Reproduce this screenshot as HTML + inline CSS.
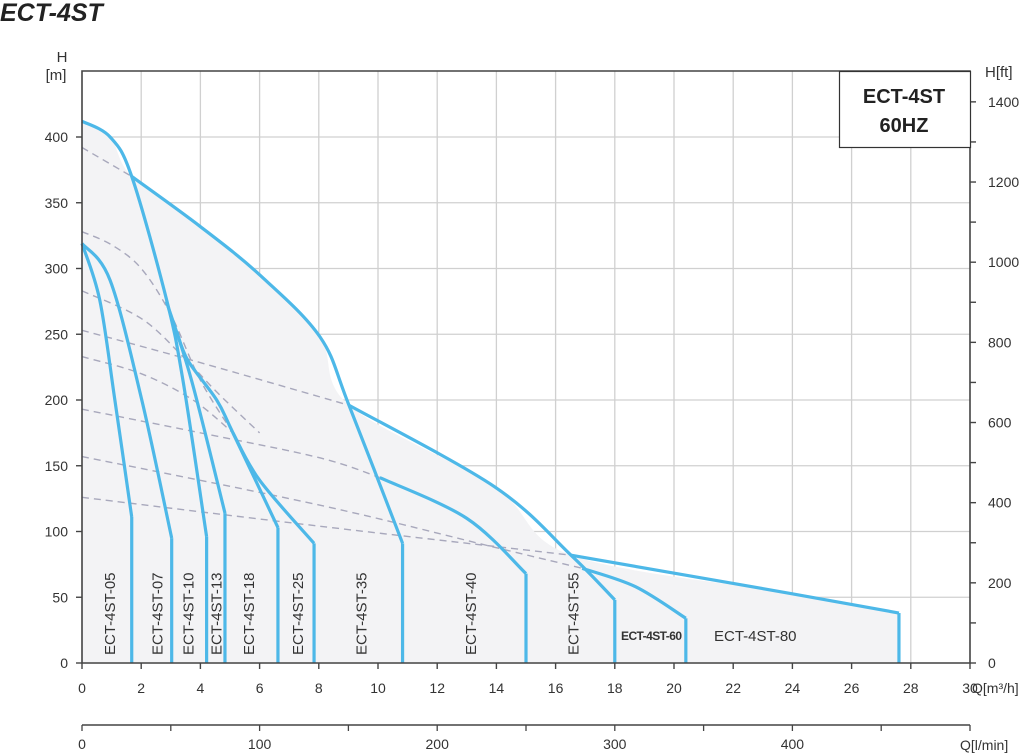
<!DOCTYPE html>
<html><head><meta charset="utf-8"><style>
body{margin:0;background:#fff;font-family:"Liberation Sans",sans-serif}
svg{display:block}
</style></head><body>
<svg width="1024" height="753" viewBox="0 0 1024 753" xmlns="http://www.w3.org/2000/svg" id="chart">
<text x="0" y="21" font-size="25" font-weight="bold" font-style="italic" fill="#222">ECT-4ST</text>
<g id="grid"></g>
<g id="fill"></g>
<g id="dashes"></g>
<g id="curves"></g>
<g id="axes"></g>
<g>
<rect x="839.5" y="71.5" width="131" height="76" fill="#fff" stroke="#333" stroke-width="1.2"/>
<text x="904" y="103" font-size="20" font-weight="bold" text-anchor="middle" fill="#222">ECT-4ST</text>
<text x="904" y="132" font-size="20" font-weight="bold" text-anchor="middle" fill="#222">60HZ</text>
</g>
<g id="labels"></g>
</svg>
<script>
const xTicks=[0,2,4,6,8,10,12,14,16,18,20,22,24,26,28,30];
const yTicks=[0,50,100,150,200,250,300,350,400];
const ftTicks=[0,200,400,600,800,1000,1200,1400];
const lminTicks=[0,100,200,300,400];
const c05=[[0,319],[0.6,276],[1.11,200],[1.68,111]];
const c07=[[0,319],[0.95,291],[2.02,200],[3.03,95]];
const c10=[[0,412],[0.95,400],[1.68,370],[2.86,276],[3.41,215],[4.21,96]];
const c13=[[2.85,275],[3.7,215],[4.83,114]];
const c18=[[3.2,252],[3.58,230],[4.55,200],[5.1,175],[6.62,103]];
const c25=[[5.1,175],[6.0,139],[7.84,91]];
const c35=[[1.68,370],[3.99,332],[6.01,295],[8.04,248],[9.02,196],[10.83,91]];
const c40=[[10.06,141],[13.0,110],[15.0,68]];
const c55=[[9.02,196],[13.94,134],[16.52,82],[18.0,48]];
const c60=[[16.9,72],[18.7,58],[20.4,34]];
const c80=[[16.52,82],[23.9,53],[27.6,38]];
const ends=[[1.68,111],[3.03,95],[4.21,96],[4.83,114],[6.62,103],[7.84,91],[10.83,91],[15.0,68],[18.0,48],[20.4,34],[27.6,38]];
const d1=[[0,392],[1.68,370]];
const d2=[[0,328],[1,318],[2,300],[3,265],[4,215],[5.1,175]];
const d3=[[0,283],[2,262],[3.41,233],[4.6,205],[6.0,175]];
const d4=[[0,253],[3.75,230],[9.02,196]];
const d5=[[0,233],[2,220],[3.75,200],[5.1,175]];
const d6=[[0,193],[4,175],[8.04,156],[10.06,141]];
const d7=[[0,157],[8.04,120],[13.94,88],[16.9,72]];
const d8=[[0,126],[8.04,104],[16.52,82]];
const modelNames=["ECT-4ST-05","ECT-4ST-07","ECT-4ST-10","ECT-4ST-13","ECT-4ST-18","ECT-4ST-25","ECT-4ST-35","ECT-4ST-40","ECT-4ST-55"];
const labelQ=[0.95,2.55,3.6,4.55,5.65,7.3,9.45,13.15,16.6];

const X=q=>82+q*29.6, Y=h=>663-h*1.315, XL=l=>82+l*0.06*29.6, YF=f=>663-f*0.3048*1.315;
const NS="http://www.w3.org/2000/svg";
function mk(t,a,p){const e=document.createElementNS(NS,t);for(const k in a)e.setAttribute(k,a[k]);p.appendChild(e);return e;}
function smooth(pts){const P=pts.map(p=>[X(p[0]),Y(p[1])]);let d="M"+P[0][0]+","+P[0][1];
for(let i=0;i<P.length-1;i++){const p0=P[i-1]||P[i],p1=P[i],p2=P[i+1],p3=P[i+2]||P[i+1];
d+=` C${p1[0]+(p2[0]-p0[0])/6},${p1[1]+(p2[1]-p0[1])/6} ${p2[0]-(p3[0]-p1[0])/6},${p2[1]-(p3[1]-p1[1])/6} ${p2[0]},${p2[1]}`;}return d;}
const grid=document.getElementById('grid'),axes=document.getElementById('axes');
xTicks.forEach(q=>{if(q>0&&q<30){const l=mk('line',{x1:X(q),x2:X(q),y1:71,y2:663,stroke:'#d0d0d0','stroke-width':1.3},grid);
}});
yTicks.forEach(h=>{const l=mk('line',{x1:82,x2:970,y1:Y(h),y2:Y(h),stroke:'#d0d0d0','stroke-width':1.3},grid);
});
// fill
const env=c10.slice(0,3).concat(c35.slice(1,5)).concat(c55.slice(1,3)).concat(c80.slice(1));
const fp=mk('path',{d:smooth(env)+` L${X(27.6)},${Y(0)} L${X(0)},${Y(0)} Z`,fill:'#f3f3f5'},document.getElementById('fill'));

[d1,d2,d3,d4,d5,d6,d7,d8].forEach(d=>{const p=mk('path',{d:smooth(d),fill:'none',stroke:'#a8a8bc','stroke-width':1.4,'stroke-dasharray':'7,5'},document.getElementById('dashes'));
});
const cg=document.getElementById('curves');
[c05,c07,c10,c13,c18,c25,c35,c40,c55,c60,c80].forEach(c=>{const p=mk('path',{d:smooth(c),fill:'none',stroke:'#4db8e8','stroke-width':3.2},cg);
});
ends.forEach(e=>{const l=mk('line',{x1:X(e[0]),x2:X(e[0]),y1:Y(e[1]),y2:Y(0),stroke:'#4db8e8','stroke-width':3.2},cg);
});
// axes
mk('path',{d:'M82,71 H970 V663 H82 Z',fill:'none',stroke:'#444','stroke-width':1.6},axes);
yTicks.forEach(h=>{mk('line',{x1:76,x2:82,y1:Y(h),y2:Y(h),stroke:'#444','stroke-width':1.4},axes);
const t=mk('text',{x:68,y:Y(h)+5,'font-size':14,'text-anchor':'end',fill:'#333'},axes);t.textContent=h;
});
for(let f=0;f<=1400;f+=100)mk('line',{x1:970,x2:976,y1:YF(f),y2:YF(f),stroke:'#444','stroke-width':1.4},axes);
ftTicks.forEach(f=>{const t=mk('text',{x:988,y:YF(f)+5,'font-size':14,fill:'#333'},axes);t.textContent=f;
});
xTicks.forEach(q=>{mk('line',{x1:X(q),x2:X(q),y1:663,y2:669,stroke:'#444','stroke-width':1.4},axes);
const t=mk('text',{x:X(q),y:693,'font-size':14,'text-anchor':'middle',fill:'#333'},axes);t.textContent=q;
});
mk('line',{x1:82,x2:970,y1:725,y2:725,stroke:'#444','stroke-width':1.6},axes);
for(let l=0;l<=500;l+=50){if(XL(l)<=970)mk('line',{x1:XL(l),x2:XL(l),y1:725,y2:731,stroke:'#444','stroke-width':1.3},axes);}
lminTicks.forEach(l=>{const t=mk('text',{x:XL(l),y:749,'font-size':14,'text-anchor':'middle',fill:'#333'},axes);t.textContent=l;
});
function txt(x,y,s,a){const t=mk('text',Object.assign({x:x,y:y,fill:'#333','font-size':14},a||{}),axes);t.textContent=s;return t;}
let t;
t=txt(62,62,'H',{'text-anchor':'middle','font-size':15});
t=txt(56,80,'[m]',{'text-anchor':'middle','font-size':15});
t=txt(985,77,'H[ft]',{'font-size':15});
t=txt(972,693,'Q[m³/h]',{'font-size':14});
t=txt(960,750,'Q[l/min]',{'font-size':14});
const lg=document.getElementById('labels');
modelNames.forEach((n,i)=>{const x=X(labelQ[i]),y=655;const e=mk('text',{x:x,y:y,'font-size':15,fill:'#333',transform:`rotate(-90 ${x} ${y})`,dy:5},lg);e.textContent=n;
});
t=mk('text',{x:621,y:640,'font-size':12,'font-weight':'bold',fill:'#333',textLength:61},lg);t.textContent='ECT-4ST-60';

t=mk('text',{x:714,y:641,'font-size':15,fill:'#333'},lg);t.textContent='ECT-4ST-80';

</script>
</body></html>
